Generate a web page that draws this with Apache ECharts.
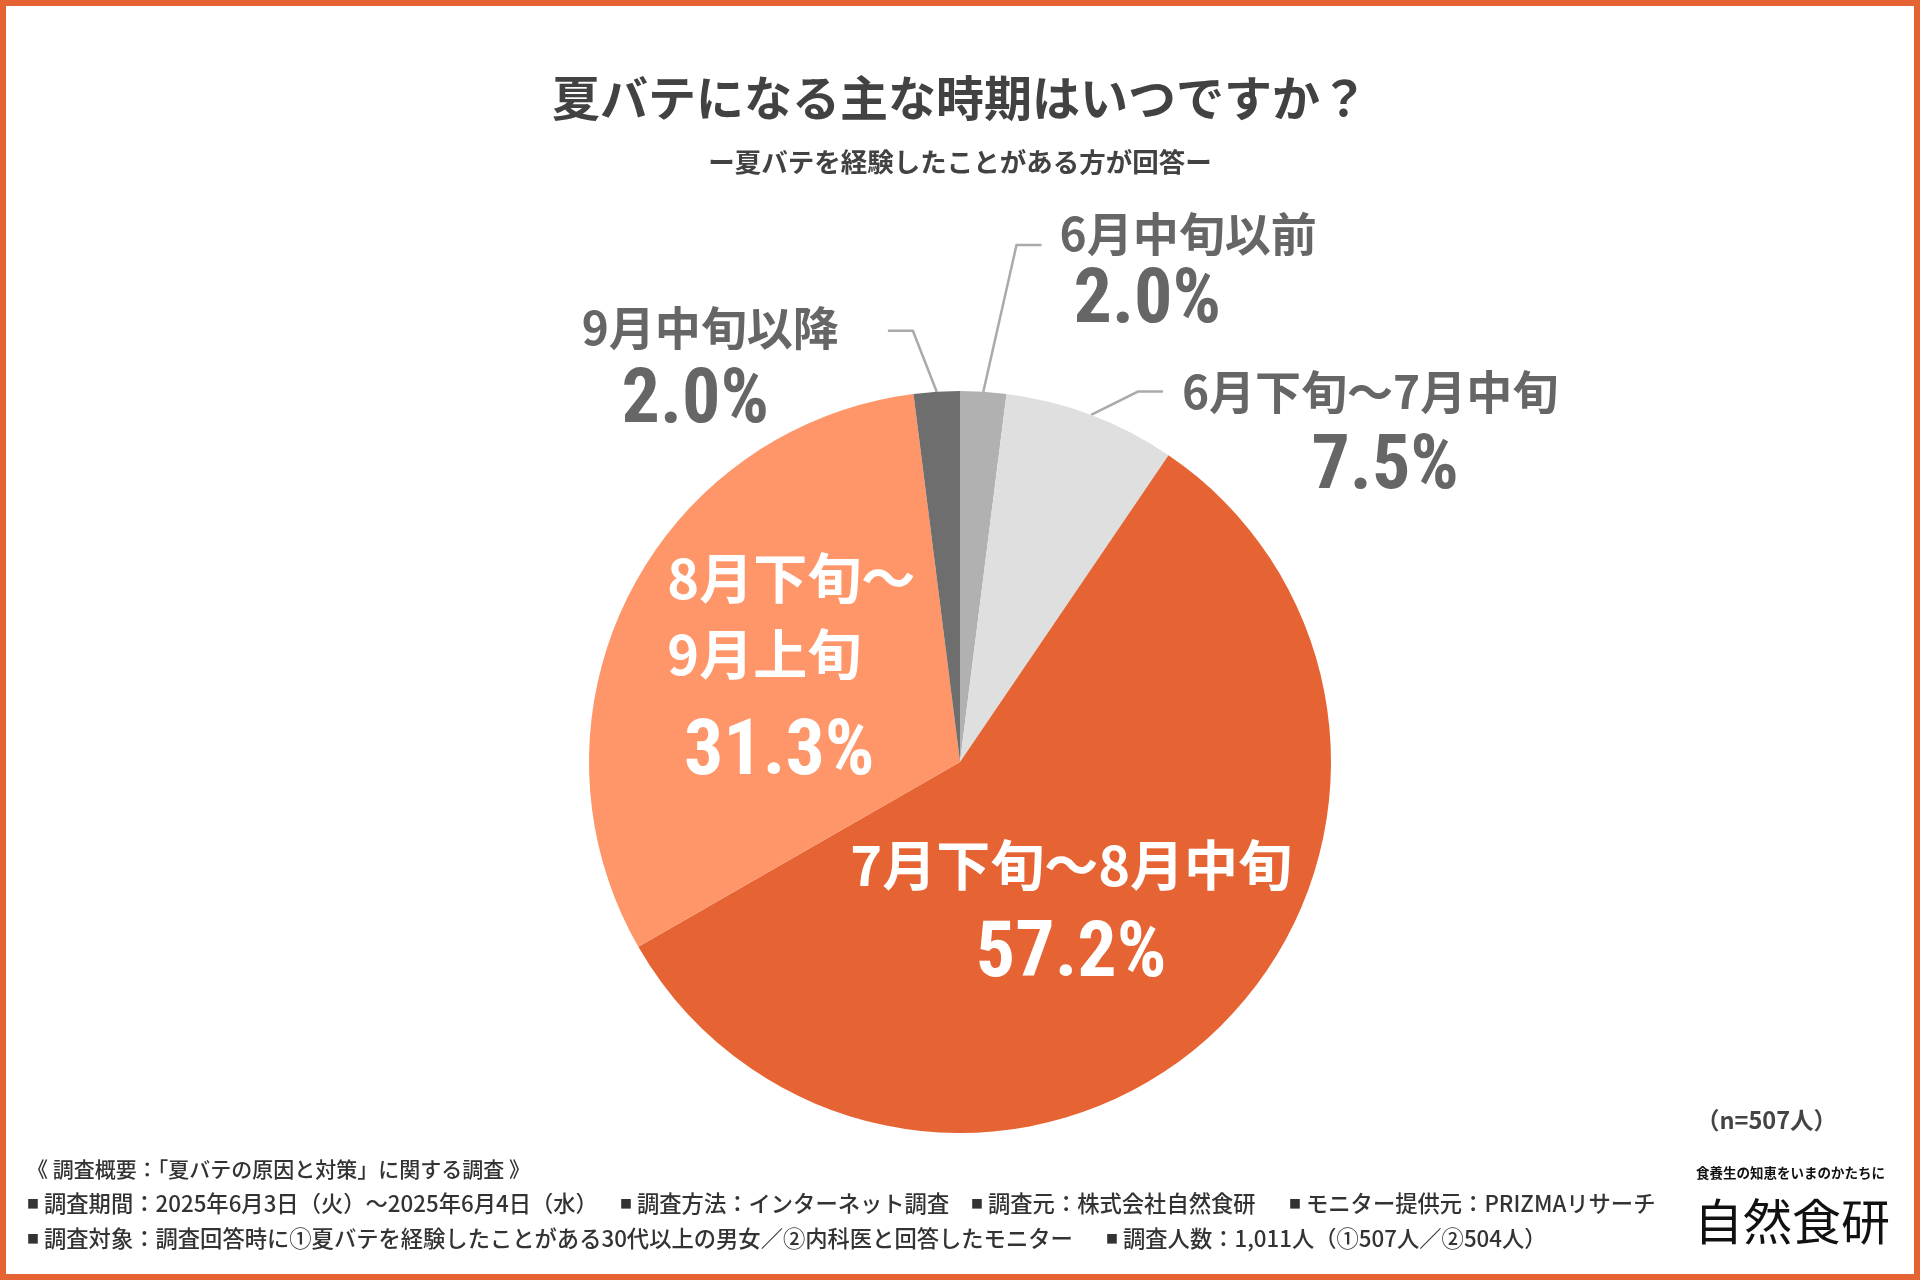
<!DOCTYPE html>
<html lang="ja">
<head>
<meta charset="utf-8">
<title>夏バテになる主な時期はいつですか？</title>
<script src="https://cdn.jsdelivr.net/npm/echarts@6/dist/echarts.min.js"></script>
<style>
  html, body { margin: 0; padding: 0; background: #fff; }
  #chart { width: 1920px; height: 1280px; }
</style>
</head>
<body>
<div id="chart"></div>
<script>
// ======================= データ =======================
const categories = ['6月中旬以前', '6月下旬〜7月中旬', '7月下旬〜8月中旬', '8月下旬〜9月上旬', '9月中旬以降']
const values = [2.0, 7.5, 57.2, 31.3, 2.0]
const sliceColors = ['#B1B1B1', '#DFDFDF', '#E66433', '#FF9669', '#6E6E6E']
const sampleSize = 507

const jp = '"Noto Sans CJK JP", "Noto Sans", sans-serif'
const num = '"Roboto Condensed", "Liberation Sans Narrow", "DejaVu Sans Condensed", sans-serif'
const orange = '#E66433'

// ラベルの見た目 (扇形ごと)
const labelStyles = [
  { inside: false, name: 'n', pct: 'p', pad: [60, 0, 0, 0], length: 147, length2: 49, gap: 18 },
  { inside: false, name: 'n', pct: 'p2', pad: [98, 0, 0, 0], length: 25, length2: 63, gap: 19 },
  { inside: true, name: 'w', pct: 'wp', pad: [36, 34, 0, 0] },
  { inside: true, name: 'wl', pct: 'wp2', pad: [0, 0, 0, 0], breakName: true },
  { inside: false, name: 'n', pct: 'p5', pad: [88, 0, 0, 0], length: 61, length2: 45, gap: 49 },
]

const footNote = '《 調査概要：「夏バテの原因と対策」に関する調査 》'
const footRow2 = [
  ['調査期間：2025年6月3日（火）〜2025年6月4日（水）', 27],
  ['調査方法：インターネット調査', 620],
  ['調査元：株式会社自然食研', 971],
  ['モニター提供元：PRIZMAリサーチ', 1289],
]
const footRow3 = [
  ['調査対象：調査回答時に①夏バテを経験したことがある30代以上の男女／②内科医と回答したモニター', 27],
  ['調査人数：1,011人（①507人／②504人）', 1106],
]

const myChart = echarts.init(document.getElementById('chart'))

const footText = (text, x, y, bullet, size) => ({
  type: 'text',
  x: x,
  y: y,
  style: {
    text: bullet ? '{b|■} ' + text : text,
    fontFamily: jp,
    fontSize: size,
    fontWeight: 500,
    fill: '#333',
    textVerticalAlign: 'middle',
    rich: { b: { fontSize: 12, fontFamily: jp, fill: '#333' } },
  },
})

const graphics = [
  // 枠
  {
    type: 'rect',
    shape: { x: 3, y: 3, width: 1914, height: 1274 },
    style: { fill: 'none', stroke: orange, lineWidth: 6 },
  },
  footText(footNote, 27, 1169, false, 21),
]
footRow2.forEach(([t, x]) => graphics.push(footText(t, x, 1204, true, 22.3)))
footRow3.forEach(([t, x]) => graphics.push(footText(t, x, 1239, true, 22.3)))
graphics.push(
  {
    type: 'text',
    x: 1837,
    y: 1120,
    style: {
      text: '（n=' + sampleSize + '人）',
      fontFamily: jp,
      fontSize: 23.5,
      fontWeight: 'bold',
      fill: '#444',
      textAlign: 'right',
      textVerticalAlign: 'middle',
    },
  },
  {
    type: 'text',
    x: 1696,
    y: 1173,
    style: {
      text: '食養生の知恵をいまのかたちに',
      fontFamily: jp,
      fontSize: 13.5,
      fontWeight: 'bold',
      fill: '#111',
      textVerticalAlign: 'middle',
    },
  },
  {
    type: 'text',
    x: 1694,
    y: 1221,
    style: {
      text: '自然食研',
      fontFamily: jp,
      fontSize: 49,
      fontWeight: 400,
      fill: '#111',
      textVerticalAlign: 'middle',
    },
  }
)

const pctStyle = (color, size, lh, align, padding) => ({
  fontFamily: num,
  fontStyle: 'condensed',
  fontWeight: 'bold',
  fontSize: size,
  lineHeight: lh,
  color: color,
  align: align,
  padding: padding || 0,
})

const option = {
  animation: false,
  backgroundColor: '#fff',
  title: {
    text: '夏バテになる主な時期はいつですか？',
    subtext: 'ー夏バテを経験したことがある方が回答ー',
    left: 'center',
    top: 70,
    padding: 0,
    itemGap: 20,
    textStyle: {
      fontFamily: jp,
      fontWeight: 'bold',
      fontSize: 48,
      lineHeight: 56,
      color: '#424242',
    },
    subtextStyle: {
      fontFamily: jp,
      fontWeight: 'bold',
      fontSize: 26.5,
      lineHeight: 32,
      color: '#424242',
    },
  },
  graphic: graphics,
  series: [
    {
      type: 'pie',
      center: [960, 762],
      radius: 371,
      startAngle: 90,
      clockwise: true,
      avoidLabelOverlap: false,
      percentPrecision: 1,
      itemStyle: { borderWidth: 0 },
      emphasis: { disabled: true },
      label: {
        formatter: (p) => {
          const s = labelStyles[p.dataIndex]
          const name = s.breakName ? p.name.replace('〜', '〜\n') : p.name
          return '{' + s.name + '|' + name + '}\n{' + s.pct + '|' + p.value.toFixed(1) + '%}'
        },
        rich: {
          n: { fontFamily: jp, fontWeight: 'bold', fontSize: 46, lineHeight: 56, color: '#666' },
          p: pctStyle('#666', 76, 84, 'left', [0, 0, 0, 14]),
          p2: pctStyle('#666', 76, 98, 'center', [0, 0, 0, 30]),
          p5: pctStyle('#666', 76, 94, 'center', [0, 30, 0, 0]),
          w: { fontFamily: jp, fontWeight: 'bold', fontSize: 54, lineHeight: 76, color: '#fff' },
          wl: { fontFamily: jp, fontWeight: 'bold', fontSize: 54, lineHeight: 76, color: '#fff', align: 'left' },
          wp: pctStyle('#fff', 78, 106, 'center'),
          wp2: pctStyle('#fff', 78, 124, 'center', [0, 24, 0, 0]),
        },
      },
      labelLine: {
        lineStyle: { color: '#AAAAAA', width: 2.5 },
      },
      // 引き出し線: 水平部分を短くして斜めに伸ばす
      labelLayout: (params) => {
        const pts = params.labelLinePoints
        if (!pts || pts.length < 3) return {}
        const dir = pts[2][0] > pts[1][0] ? 1 : -1
        return {
          labelLinePoints: [pts[0], [pts[2][0] - dir * 25, pts[2][1]], pts[2]],
        }
      },
      data: categories.map((name, i) => {
        const s = labelStyles[i]
        return {
          name: name,
          value: values[i],
          itemStyle: { color: sliceColors[i] },
          label: {
            position: s.inside ? 'inside' : 'outside',
            padding: s.pad,
            distanceToLabelLine: s.gap || 5,
          },
          labelLine: s.inside
            ? { show: false }
            : { show: true, length: s.length, length2: s.length2 },
        }
      }),
    },
  ],
}

myChart.setOption(option)
</script>
</body>
</html>
